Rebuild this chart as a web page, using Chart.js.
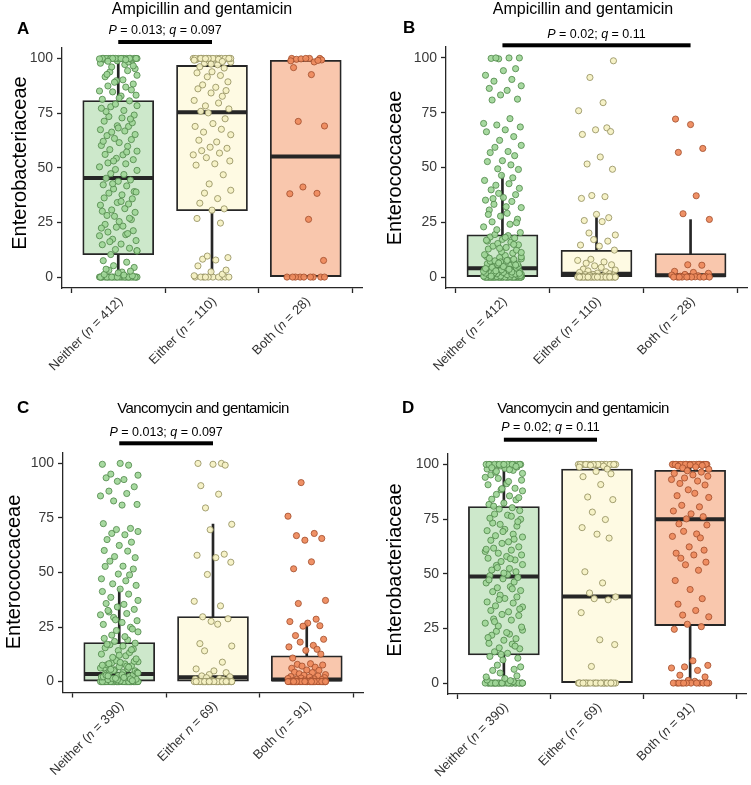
<!DOCTYPE html>
<html><head><meta charset="utf-8">
<script src="https://cdn.jsdelivr.net/npm/chart.js@4.4.1/dist/chart.umd.min.js"></script>
<style>
html,body{margin:0;padding:0;background:#fff;}
body{width:751px;height:785px;position:relative;overflow:hidden;}
canvas{position:absolute;}
</style></head><body>
<canvas id="cA" width="375" height="395" style="left:0;top:0"></canvas>
<canvas id="cB" width="376" height="395" style="left:375px;top:0"></canvas>
<canvas id="cC" width="375" height="390" style="left:0;top:395px"></canvas>
<canvas id="cD" width="376" height="390" style="left:375px;top:395px"></canvas>
<script>
// ---------------- DATA ----------------
const GROUP_POS = [1, 2, 3];
const Y_TICKS = [0, 25, 50, 75, 100];
const LABELS_AG = ['Neither (n = 412)', 'Either (n = 110)', 'Both (n = 28)'];
const LABELS_VG_C = ['Neither (n = 390)', 'Either n = 69)', 'Both (n = 91)'];
const LABELS_VG_D = ['Neither (n = 390)', 'Either (n = 69)', 'Both (n = 91)'];
const TITLE_AG = 'Ampicillin and gentamicin';
const TITLE_VG = 'Vancomycin and gentamicin';
const PTEXT_A = 'P = 0.013; q = 0.097';
const PTEXT_B = 'P = 0.02; q = 0.11';
const PTEXT_C = 'P = 0.013; q = 0.097';
const PTEXT_D = 'P = 0.02; q = 0.11';

// box statistics (Neither, Either, Both)
const A_LO = [0, 0, 0],   A_Q1 = [10.2, 30.4, 0],  A_MED = [45.3, 75.4, 55.1], A_Q3 = [80.7, 96.8, 99.1], A_HI = [100, 100, 100];
const B_LO = [0, 0, 0],   B_Q1 = [0, 0, 0],        B_MED = [4.0, 1.5, 0.8],    B_Q3 = [19.3, 12.2, 10.7], B_HI = [47, 28.5, 26.2];
const C_LO = [0, 0, 0],   C_Q1 = [0, 0, 0],        C_MED = [3.5, 2.0, 1.0],    C_Q3 = [17.9, 29.8, 11.8], C_HI = [42.7, 72.2, 27.5];
const D_LO = [0, 0, 0],   D_Q1 = [12.9, 0, 26.3],  D_MED = [48.7, 39.6, 74.9], D_Q3 = [80.7, 97.9, 97.3], D_HI = [100, 100, 100];

// jittered observations
const A_NEITHER = [0,0,0,0,0,0,0,0,0,0,0,0,0,0,0,0,0,0,0,0,0,0,0,0,0,0,
0.6,1.2,2.3,3.1,4.4,5.2,6.8,7.5,1.9,2.7,3.6,0.9,
10.3,11.9,12.6,13.2,14.8,15.1,16.7,17.3,18.9,19.4,20.6,21.2,22.8,23.3,24.1,12.1,16.2,19.9,22.4,
25.4,26.3,27.8,28.2,29.6,30.7,31.3,32.9,33.4,34.1,35.8,36.2,37.6,38.4,39.1,40.3,41.7,42.2,43.8,44.4,45.2,46.9,47.3,48.8,49.2,26.9,30.1,34.6,38.9,42.7,
50.4,51.8,52.2,53.7,54.3,55.9,56.1,57.6,58.3,59.8,60.2,61.5,62.9,63.4,64.7,65.2,66.3,66.8,67.4,68.9,69.2,70.6,71.3,72.8,73.4,74.1,53.1,57.2,62.1,68.2,72.3,
75.7,76.2,77.9,78.4,79.1,80.6,81.3,82.8,83.2,84.7,85.1,86.9,87.4,88.3,89.8,90.2,91.6,92.3,93.8,94.4,77.2,81.9,85.6,89.1,92.7,
95.3,96.1,97.2,97.8,98.4,98.9,99.2,99.6,100,100,100,100,100,100,100,100,100,100,100,100,100,100,100,100,100,100,99.8,99.4,98.7,96.6];
const A_EITHER = [0,0,0,0,0,0,0,0,0,0,0.6,1.3,2.4,3.2,5.1,7.8,8.2,8.9,9.6,
24.7,26.8,30.6,31.2,33.8,35.9,38.4,39.7,42.6,46.8,
51.2,51.8,53.1,54.6,55.9,56.7,57.8,58.9,59.4,61.8,62.6,65.1,66.3,67.6,68.9,70.2,72.4,75.1,75.8,76.9,78.3,79.6,80.8,82.7,84.2,85.3,86.1,86.8,87.9,89.3,91.6,92.2,93.4,93.9,
95.6,96.2,97.1,97.8,98.3,98.8,99.1,99.4,99.7,100,100,100,100,100,100,100,100,100,100,100,100,100,100,100,100,100,100,99.9,99.6,99.2,98.6,97.4];
const A_BOTH = [100,100,100,99.6,99.3,99.8,98.4,98.9,100,99.1,95.8,92.6,71.2,69.1,41.2,38.3,38.1,26.4,7.6,0,0,0,0,0,0,0,0,0];

const B_NEITHER = [0,0,0,0,0,0,0,0,0,0,0,0,0,0,0,0,0,0,0,0,0,0,0,0,0,0,0,0,0,0,0,0,0,0,0,0,0,0,
0.2,0.4,0.3,0.6,0.8,0.5,1.1,0.9,1.3,1.6,1.2,1.8,2.1,1.4,2.4,2.2,2.7,3.1,2.9,3.4,3.8,3.3,4.1,4.6,4.3,5.2,4.9,5.7,5.4,6.1,6.6,6.3,7.2,7.8,7.4,8.3,8.9,8.1,9.4,9.8,
0.7,1.5,2.6,3.6,4.4,5.9,6.9,7.6,8.6,9.2,1.9,2.3,3.9,4.8,5.5,6.4,0.4,1.7,2.8,3.5,
10.2,10.9,11.6,12.3,12.8,13.5,14.1,14.7,15.3,15.9,16.4,17.2,17.8,18.3,18.9,19.4,11.2,13.1,14.9,16.8,18.1,
20.3,21.6,22.9,24.1,25.2,26.4,27.8,29.1,30.6,31.7,33.2,34.5,35.1,36.3,37.6,38.2,39.8,40.5,41.9,42.6,44.1,45.3,46.4,24.8,28.6,32.1,35.8,
49.1,49.4,51.2,52.7,53.1,55.4,56.8,57.3,59.2,60.1,62.4,64.1,66.3,67.2,68.5,69.4,70.1,72.3,80.8,81.2,83.1,85.2,86.1,87.3,89.4,90.2,92.1,94.2,95.1,99.6,99.8,100,100,100];
const B_EITHER = [98.7,91.1,79.6,75.9,68.1,67.2,66.4,65.1,54.8,51.6,49.2,37.2,36.7,35.9,28.6,27.1,25.8,25.3,20.1,19.2,17.1,16.4,14.6,14.1,12.3,8.1,7.6,6.9,6.3,5.6,5.1,4.4,3.6,3.2,2.8,2.4,2.1,1.8,1.5,1.2,1.1,0.9,0.8,0.6,0.5,0.4,0.3,0.2,0.2,0.1,
0,0,0,0,0,0,0,0,0,0,0,0,0,0,0,0,0,0,0,0,0,0,0,0,0,0,0,0,0,0];
const B_BOTH = [72.1,69.6,58.7,56.9,37.1,28.9,26.3,5.6,5.4,2.6,2.1,1.7,1.2,0.9,0.6,0.4,0.3,0.2,0.1,0,0,0,0,0,0,0,0,0];

const C_NEITHER = [0,0,0,0,0,0,0,0,0,0,0,0,0,0,0,0,0,0,0,0,0,0,0,0,0,0,0,0,0,0,0,0,0,0,0,0,0,0,
0.3,0.5,0.7,0.9,1.1,1.4,1.7,2.1,2.5,2.8,3.2,3.6,4.1,4.5,4.9,5.4,5.8,6.3,6.8,7.2,7.7,8.1,8.6,9.1,9.6,
1.2,2.2,3.1,4.2,5.1,6.2,7.1,8.2,9.3,0.8,1.9,2.9,3.9,5.6,6.6,7.5,8.8,0.4,1.5,2.6,
10.4,11.1,11.8,12.6,13.3,14.2,14.9,15.5,16.3,16.9,17.6,18.4,19.1,19.8,12.1,14.6,17.1,
20.6,21.3,22.8,23.4,24.9,26.2,27.1,27.9,29.4,30.6,31.2,31.9,33.1,34.2,35.4,35.8,37.2,38.6,40.1,41.3,42.4,24.1,28.3,32.6,
44.1,44.8,46.2,47.1,48.9,49.3,51.6,52.8,52.9,55.2,56.8,57.3,59.8,60.1,62.4,63.9,65.1,67.3,67.9,68.8,69.7,70.2,72.4,80.9,81.2,82.8,85.1,86.2,87.3,89.3,91.8,92.6,93.4,94.6,95.1,99.2,99.6,100];
const C_EITHER = [100,100,99.6,99.2,89.8,85.9,79.6,72.1,69.6,58.4,57.9,56.8,54.7,49.1,36.8,34.7,29.7,28.8,27.6,26.3,17.4,16.3,14.1,8.9,5.8,4.9,4.1,3.2,2.6,2.2,1.8,1.4,1.1,0.9,0.6,0.4,0.2,
0,0,0,0,0,0,0,0,0,0,0,0,0,0,0,0,0,0,0,0,0,0,0,0,0,0,0,0,0,0,0,0];
const C_BOTH = [91.2,75.8,67.9,66.9,65.6,64.8,54.9,51.7,37.2,35.8,28.6,27.5,26.8,25.6,25.4,21.1,19.4,18.1,16.6,15.9,14.8,14.3,12.6,10.8,8.2,7.9,7.6,7.1,6.6,6.1,5.3,5.1,4.3,4.1,3.6,3.2,2.9,2.6,2.3,2.1,1.8,1.6,1.4,1.2,1.1,0.9,0.7,0.6,0.5,0.4,0.3,0.2,0.1,
0,0,0,0,0,0,0,0,0,0,0,0,0,0,0,0,0,0,0,0,0,0,0,0,0,0,0,0,0,0,0,0,0,0,0,0,0,0];

const D_NEITHER = [0,0,0,0,0,0,0,0,0,0,0,0,0,0,0,0,0,0,0,0,0,0,0,0,0,0,
0.7,1.4,2.1,3.3,4.6,5.8,7.4,8.2,1.1,2.8,6.3,
10.6,11.4,12.2,13.6,14.3,15.7,16.1,17.8,18.2,19.6,20.3,21.9,22.4,23.7,24.2,13.1,16.9,20.8,23.1,
25.6,26.1,27.4,28.8,29.3,30.9,31.4,32.6,33.2,34.8,35.3,36.6,37.1,38.7,39.4,40.2,41.8,42.3,43.6,44.1,45.8,46.2,47.7,48.3,49.1,49.6,28.1,33.9,38.2,43.1,47.2,
50.3,50.9,51.7,52.4,53.8,54.2,55.6,56.3,57.1,57.9,58.6,59.4,60.2,60.8,61.7,62.3,63.9,64.6,65.3,66.8,67.4,68.1,69.7,70.3,71.8,72.6,73.2,74.9,52.8,56.9,61.2,65.8,69.3,73.8,
75.4,76.8,77.3,78.9,79.6,80.2,81.7,82.3,83.8,84.1,85.6,86.3,87.9,88.4,89.1,90.7,91.2,92.8,93.6,94.1,76.3,80.9,84.8,88.9,92.2,
95.2,95.9,96.4,97.3,97.9,98.2,98.8,99.3,99.7,100,100,100,100,100,100,100,100,100,100,100,100,100,100,100,99.1,98.5,97.6,96.8];
const D_EITHER = [100,100,100,100,100,100,100,100,100,100,100,100,100,100,100,100,100,100,100,100,
99.6,99.2,98.8,97.9,96.8,95.7,94.4,90.8,85.1,83.9,78.2,74.8,71.1,68.1,66.3,50.9,45.8,41.2,39.4,38.6,38.1,32.2,19.8,17.6,7.6,
0,0,0,0,0,0,0,0,0,0,0,0,0,0,0,0,0,0,0,0,0,0,0,0];
const D_BOTH = [100,100,100,100,100,100,100,100,100,100,100,100,100,100,100,100,100,100,100,100,
99.8,99.5,99.2,98.9,98.4,97.8,97.1,96.5,95.9,95.2,94.6,93.8,93.1,92.4,91.3,90.6,88.4,86.8,85.7,84.9,
81.3,80.6,78.7,77.4,76.1,75.1,72.8,72.3,69.4,68.2,67.1,66.4,62.3,60.8,59.4,58.6,57.1,55.3,54.1,51.6,
46.9,42.8,38.6,36.1,33.2,31.1,30.3,26.9,25.8,24.6,10.2,8.1,7.4,6.9,5.8,3.6,2.8,1.2,0.8,
0,0,0,0,0,0,0,0,0,0,0,0];

// horizontal jitter offsets (in category units)
const JITTER = [0.12,-0.17,0.03,0.19,-0.06,-0.2,0.08,-0.11,0.16,-0.02,0.05,-0.14,0.2,-0.09,0.1,-0.18,0.01,0.14,-0.04,-0.12,
0.18,-0.07,0.07,-0.19,0.11,-0.01,0.15,-0.15,0.04,-0.1,0.17,-0.05,0.09,-0.16,0.0,0.13,-0.13,0.06,-0.08,0.2,-0.03];

// ---------------- STYLE ----------------
const FONT = '"Liberation Sans", Arial, Helvetica, sans-serif';
const BOX_FILL = ['#cde8cb', '#fefae3', '#f9c7ad'];
const PT_FILL = ['rgba(160,214,152,0.92)', 'rgba(246,241,196,0.95)', 'rgba(238,139,94,0.95)'];
const PT_EDGE = ['#4e8548', '#8f8c5c', '#a04d2c'];
const INK = '#262626';

function drawRich(ctx, text, x, y, align, size, color) {
  const segs = text.split(/(\b[Pqn]\b)/).filter(s => s.length);
  const fonts = segs.map(s => (/^[Pqn]$/.test(s) ? 'italic ' : '') + size + 'px ' + FONT);
  const widths = segs.map((s, i) => { ctx.font = fonts[i]; return ctx.measureText(s).width; });
  const total = widths.reduce((a, b) => a + b, 0);
  let cx = align === 'center' ? x - total / 2 : (align === 'right' ? x - total : x);
  ctx.textAlign = 'left';
  ctx.fillStyle = color;
  segs.forEach((s, i) => { ctx.font = fonts[i]; ctx.fillText(s, cx, y); cx += widths[i]; });
}

function panelPlugin(p) {
  return {
    id: 'panel' + p.letter,
    afterDraw(chart) {
      const ctx = chart.ctx, xs = chart.scales.x, area = chart.chartArea;
      ctx.save();
      ctx.textBaseline = 'alphabetic';
      // panel letter
      ctx.fillStyle = '#000';
      ctx.font = 'bold 17px ' + FONT;
      ctx.textAlign = 'left';
      ctx.fillText(p.letter, p.letterX, p.letterY);
      // title
      ctx.font = p.titleSize + 'px ' + FONT;
      ctx.textAlign = 'center';
      ctx.letterSpacing = p.titleSpacing || '0px';
      ctx.fillText(p.title, p.titleX, p.titleY);
      ctx.letterSpacing = '0px';
      // significance bracket
      const x1 = xs.getPixelForValue(p.bracket[0]), x2 = xs.getPixelForValue(p.bracket[1]);
      ctx.fillStyle = '#000';
      ctx.fillRect(x1, p.barY - 2, x2 - x1, 4);
      drawRich(ctx, p.ptext, (x1 + x2) / 2, p.ptextY, 'center', 12.5, '#000');
      // rotated x labels
      p.xLabels.forEach((lab, i) => {
        const px = xs.getPixelForValue(GROUP_POS[i]);
        ctx.save();
        ctx.translate(px + 5, area.bottom + 14);
        ctx.rotate(-Math.PI / 4);
        drawRich(ctx, lab, 0, 0, 'right', 13, '#333');
        ctx.restore();
      });
      // y title
      ctx.save();
      ctx.translate(p.yTitleX, p.yTitleY);
      ctx.rotate(-Math.PI / 2);
      ctx.font = '20px ' + FONT;
      ctx.fillStyle = '#000';
      ctx.textAlign = 'center';
      ctx.textBaseline = 'middle';
      ctx.fillText(p.yTitle, 0, 0);
      ctx.restore();
      ctx.restore();
    }
  };
}

function axisStyle() {
  return {
    grid: { display: true, drawOnChartArea: false, drawTicks: true, tickLength: 5, tickColor: INK, tickWidth: 1.3 },
    border: { display: true, color: INK, width: 1.3 }
  };
}

function buildPanel(id, p) {
  const stats = p.stats;
  const datasets = [];
  datasets.push({
    type: 'bar', order: 6, grouped: false, barThickness: 2,
    data: GROUP_POS.map((g, i) => ({ x: g, y: [stats.lo[i], stats.hi[i]] })),
    backgroundColor: INK, borderWidth: 0
  });
  datasets.push({
    type: 'bar', order: 5, grouped: false, barThickness: 71,
    data: GROUP_POS.map((g, i) => ({ x: g, y: [stats.q1[i], stats.q3[i]] })),
    backgroundColor: BOX_FILL, borderColor: INK, borderWidth: 1.8, borderSkipped: false
  });
  datasets.push({
    type: 'scatter', order: 4,
    data: GROUP_POS.map((g, i) => ({ x: g, y: stats.med[i] })),
    pointStyle: 'line', pointRadius: 35, pointBorderWidth: 4, pointBorderColor: INK, borderColor: INK
  });
  p.points.forEach((vals, gi) => {
    datasets.push({
      type: 'scatter', order: 1,
      data: vals.map((v, j) => ({ x: GROUP_POS[gi] + JITTER[(j + p.jOff + gi * 13) % JITTER.length], y: v })),
      pointRadius: 3.1, pointBorderWidth: 0.8,
      pointBackgroundColor: PT_FILL[gi], pointBorderColor: PT_EDGE[gi]
    });
  });
  const xAx = axisStyle(), yAx = axisStyle();
  new Chart(document.getElementById(id), {
    type: 'scatter',
    data: { datasets },
    options: {
      responsive: false, animation: false, devicePixelRatio: 1, events: [],
      layout: { autoPadding: false, padding: { left: 0, top: p.T, right: p.padR, bottom: 0 } },
      plugins: { legend: { display: false }, tooltip: { enabled: false } },
      scales: {
        x: Object.assign(xAx, {
          type: 'linear', min: 0.4, max: 3.6, offset: false,
          afterBuildTicks: s => { s.ticks = GROUP_POS.map(v => ({ value: v })); },
          afterFit: s => { s.height = p.xH; },
          ticks: { display: false }
        }),
        y: Object.assign(yAx, {
          type: 'linear', min: -5, max: 105,
          afterBuildTicks: s => { s.ticks = Y_TICKS.map(v => ({ value: v })); },
          afterFit: s => { s.width = p.L; },
          ticks: { font: { size: 14, family: FONT }, color: '#3a3a3a', padding: 4 }
        })
      }
    },
    plugins: [panelPlugin(p)]
  });
}

buildPanel('cA', {
  letter: 'A', letterX: 17, letterY: 34,
  title: TITLE_AG, titleSize: 16, titleX: 202, titleY: 14,
  ptext: PTEXT_A, ptextY: 34, barY: 42, bracket: [1, 2],
  xLabels: LABELS_AG, yTitle: 'Enterobacteriaceae', yTitleX: 20, yTitleY: 163,
  L: 62, T: 47.5, padR: 13, xH: 107, jOff: 0,
  stats: { lo: A_LO, q1: A_Q1, med: A_MED, q3: A_Q3, hi: A_HI },
  points: [A_NEITHER, A_EITHER, A_BOTH]
});
buildPanel('cB', {
  letter: 'B', letterX: 28, letterY: 33,
  title: TITLE_AG, titleSize: 16, titleX: 208, titleY: 14,
  ptext: PTEXT_B, ptextY: 37.5, barY: 45.3, bracket: [1, 3],
  xLabels: LABELS_AG, yTitle: 'Enterococcaceae', yTitleX: 20.5, yTitleY: 168,
  L: 71, T: 47, padR: 4, xH: 107, jOff: 7,
  stats: { lo: B_LO, q1: B_Q1, med: B_MED, q3: B_Q3, hi: B_HI },
  points: [B_NEITHER, B_EITHER, B_BOTH]
});
buildPanel('cC', {
  letter: 'C', letterX: 17, letterY: 18,
  title: TITLE_VG, titleSize: 15, titleSpacing: '-0.6px', titleX: 203, titleY: 18,
  ptext: PTEXT_C, ptextY: 40.5, barY: 48.3, bracket: [1, 2],
  xLabels: LABELS_VG_C, yTitle: 'Enterococcaceae', yTitleX: 14, yTitleY: 177,
  L: 63, T: 57.5, padR: 12, xH: 92.5, jOff: 19,
  stats: { lo: C_LO, q1: C_Q1, med: C_MED, q3: C_Q3, hi: C_HI },
  points: [C_NEITHER, C_EITHER, C_BOTH]
});
buildPanel('cD', {
  letter: 'D', letterX: 27, letterY: 18,
  title: TITLE_VG, titleSize: 15, titleSpacing: '-0.6px', titleX: 208, titleY: 18,
  ptext: PTEXT_D, ptextY: 36, barY: 44.7, bracket: [1, 2],
  xLabels: LABELS_VG_D, yTitle: 'Enterobacteriaceae', yTitleX: 20.5, yTitleY: 175,
  L: 73, T: 58.5, padR: 5, xH: 91, jOff: 29,
  stats: { lo: D_LO, q1: D_Q1, med: D_MED, q3: D_Q3, hi: D_HI },
  points: [D_NEITHER, D_EITHER, D_BOTH]
});
</script>
</body></html>
